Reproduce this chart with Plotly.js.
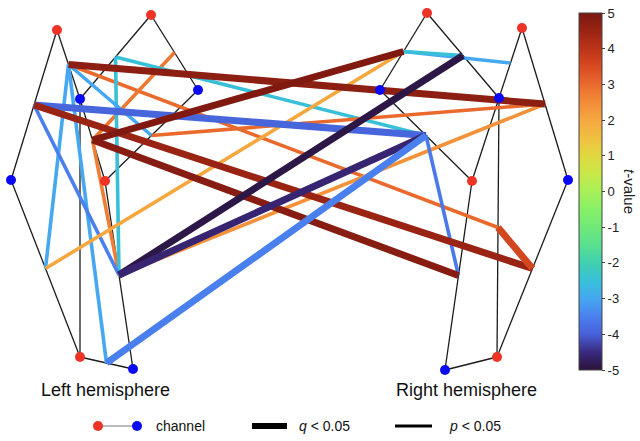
<!DOCTYPE html>
<html>
<head>
<meta charset="utf-8">
<script src="https://cdn.plot.ly/plotly-3.0.1.min.js"></script>
<style>html,body{margin:0;padding:0;background:#fff;}#chart{width:640px;height:441px;}</style>
</head>
<body>
<div id="chart"></div>
<script>
// ---- Optode montage (layout coordinates of the probe drawing) ----
const optodeX = [57, 151, 80, 198, 11, 105, 80, 133, 427, 522, 380, 499, 472, 568, 445, 497];
const optodeY = [30, 15, 99, 90, 180, 181, 357, 369, 13, 28, 90, 98, 181, 180, 370, 357];
const optodeKind = ['S','S','D','D','D','S','S','D','S','S','D','D','S','D','D','S'];

// ---- Channels: source optode / detector optode ----
const channelNames = ['L1','L2','L3','L4','L5','L6','L7','L8','L9','L10',
                      'R1','R2','R3','R4','R5','R6','R7','R8','R9','R10'];
const channelSrc = [0, 0, 1, 1, 5, 5, 6, 6, 5, 6, 8, 8, 9, 9, 12, 12, 15, 12, 15, 15];
const channelDet = [4, 2, 2, 3, 3, 2, 4, 2, 7, 7, 10, 11, 11, 13, 10, 11, 11, 14, 13, 14];

// ---- Significant connections ----
const connFrom = [1, 0, 0, 5, 5, 8, 8, 9, 16, 1, 3, 5, 2, 2, 1, 1, 1, 0, 8, 6, 4, 10, 10, 14];
const connTo   = [13, 14, 18, 17, 10, 11, 14, 14, 18, 16, 5, 8, 14, 8, 6, 9, 4, 8, 13, 10, 13, 12, 11, 17];
const connT    = [4.7, -3.9, 4.5, 4.8, 4.9, -4.9, -4.6, -3.5, 3.6, 3.0, 2.8, 2.7, -2.5, -2.5, -3.0, -3.0, -3.0, -3.5, 2.4, 2.0, 3.0, -3.0, -2.5, -3.6];
const connSig  = ['q','q','q','q','q','q','q','q','q','p','p','p','p','p','p','p','p','p','p','p','p','p','p','p'];

const tickVals = [-5,-4,-3,-2,-1,0,1,2,3,4,5];
const tickText = ['-5','-4','-3','-2','-1','0','1','2','3','4','5'];
const tMin = -5, tMax = 5;

// ---- Colour scale (turbo-like) ----
const cscale = [
  [0.00,'#2a1238'],[0.05,'#3a2a80'],[0.10,'#4860d8'],[0.15,'#4a80ee'],[0.20,'#45a8f0'],
  [0.25,'#38c0d8'],[0.30,'#40d0b0'],[0.35,'#58e090'],[0.40,'#70e878'],[0.45,'#88f068'],
  [0.50,'#a8f058'],[0.55,'#c8e848'],[0.60,'#e0d840'],[0.65,'#f0c040'],[0.70,'#f5a840'],
  [0.75,'#f28c38'],[0.80,'#ea6a2e'],[0.85,'#d84a22'],[0.90,'#bc3419'],[0.95,'#9a2414'],
  [1.00,'#7a1810']];

function hex2rgb(h){return [parseInt(h.substr(1,2),16),parseInt(h.substr(3,2),16),parseInt(h.substr(5,2),16)];}
function colorFor(t){
  let f = (t - tMin)/(tMax - tMin); f = Math.max(0, Math.min(1, f));
  for (let i=0;i<cscale.length-1;i++){
    const a=cscale[i], b=cscale[i+1];
    if (f>=a[0] && f<=b[0]){
      const u=(f-a[0])/(b[0]-a[0]); const ca=hex2rgb(a[1]), cb=hex2rgb(b[1]);
      const c=ca.map((v,k)=>Math.round(v+(cb[k]-v)*u));
      return 'rgb('+c.join(',')+')';
    }
  }
  return cscale[cscale.length-1][1];
}

// channel midpoints
const chX = channelSrc.map((s,i)=>(optodeX[s]+optodeX[channelDet[i]])/2);
const chY = channelSrc.map((s,i)=>(optodeY[s]+optodeY[channelDet[i]])/2);

const traces = [];
// black channel lines
const lx=[], ly=[];
channelSrc.forEach((s,i)=>{ lx.push(optodeX[s],optodeX[channelDet[i]],null); ly.push(optodeY[s],optodeY[channelDet[i]],null); });
traces.push({type:'scatter',mode:'lines',x:lx,y:ly,line:{color:'#1c1c1c',width:1.3},hoverinfo:'skip',showlegend:false});

// connections: thin first, then thick
const order = connFrom.map((_,i)=>i).sort((a,b)=>(connSig[a]==='p'?0:1)-(connSig[b]==='p'?0:1));
order.forEach(i=>{
  traces.push({type:'scatter',mode:'lines',
    x:[chX[connFrom[i]],chX[connTo[i]]], y:[chY[connFrom[i]],chY[connTo[i]]],
    line:{color:colorFor(connT[i]), width: connSig[i]==='q'?7:3.6},
    hoverinfo:'skip',showlegend:false});
});

// optodes
traces.push({type:'scatter',mode:'markers',x:optodeX,y:optodeY,
  marker:{size:10,color:optodeKind.map(k=>k==='S'?'#ec3326':'#0a0af2'),line:{width:0}},
  hoverinfo:'skip',showlegend:false});

// colour bar carrier (outside visible range)
traces.push({type:'scatter',mode:'markers',x:[-50,-50],y:[-50,-50],
  marker:{color:[tMin,tMax],colorscale:cscale,cmin:tMin,cmax:tMax,showscale:true,size:1,
    colorbar:{x:579/640,xanchor:'left',xpad:0,ypad:0,y:1-13/441,yanchor:'top',
      len:(370-13)/441,lenmode:'fraction',thickness:23,thicknessmode:'pixels',
      outlinewidth:1,outlinecolor:'#444',
      tickmode:'array',tickvals:tickVals,ticktext:tickText,ticks:'outside',ticklen:3,tickcolor:'#444',
      tickfont:{family:'Liberation Sans, Arial, sans-serif',size:13,color:'#222'},
      title:{text:''}}},
  hoverinfo:'skip',showlegend:false});

const fontF = 'Liberation Sans, Arial, sans-serif';
const layout = {
  width:640,height:441,margin:{l:0,r:0,t:0,b:0},paper_bgcolor:'#fff',plot_bgcolor:'#fff',
  xaxis:{range:[0,640],visible:false,fixedrange:true},
  yaxis:{range:[441,0],visible:false,fixedrange:true},
  showlegend:false,
  annotations:[
    {x:105,y:390,xref:'x',yref:'y',text:'Left hemisphere',showarrow:false,font:{family:fontF,size:18,color:'#111'}},
    {x:466,y:390,xref:'x',yref:'y',text:'Right hemisphere',showarrow:false,font:{family:fontF,size:18,color:'#111'}},
    {x:154,y:426,xref:'x',yref:'y',xanchor:'left',text:'channel',showarrow:false,font:{family:fontF,size:14,color:'#111'}},
    {x:297,y:426,xref:'x',yref:'y',xanchor:'left',text:'<i>q</i> &lt; 0.05',showarrow:false,font:{family:fontF,size:14,color:'#111'}},
    {x:447,y:426,xref:'x',yref:'y',xanchor:'left',text:'<i>p</i> &lt; 0.05',showarrow:false,font:{family:fontF,size:14,color:'#111'}},
    {x:630,y:191,xref:'x',yref:'y',text:'<i>t</i>-value',textangle:90,showarrow:false,font:{family:fontF,size:15,color:'#222'}}
  ],
  shapes:[
    {type:'line',xref:'x',yref:'y',x0:98,x1:137,y0:426,y1:426,line:{color:'#777',width:1}},
    {type:'circle',xref:'x',yref:'y',x0:93,x1:103,y0:421,y1:431,fillcolor:'#ec3326',line:{width:0}},
    {type:'circle',xref:'x',yref:'y',x0:132,x1:142,y0:421,y1:431,fillcolor:'#0a0af2',line:{width:0}},
    {type:'line',xref:'x',yref:'y',x0:252,x1:287,y0:426,y1:426,line:{color:'#000',width:6}},
    {type:'line',xref:'x',yref:'y',x0:395,x1:432,y0:426,y1:426,line:{color:'#000',width:3}}
  ]
};
Plotly.newPlot('chart',traces,layout,{displayModeBar:false,staticPlot:true});
</script>
</body>
</html>
